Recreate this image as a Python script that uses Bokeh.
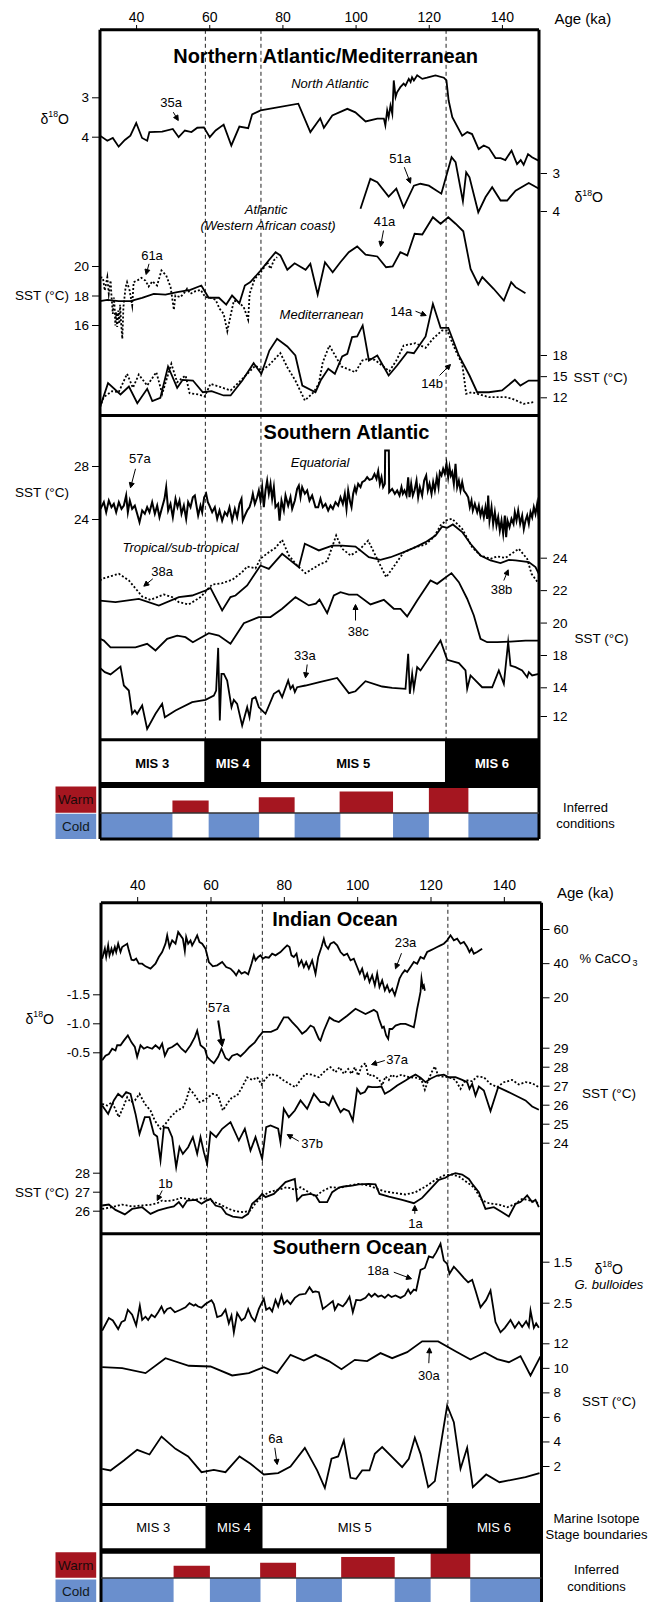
from bokeh.plotting import figure
from bokeh.models import Range1d, Arrow, NormalHead
from bokeh.core.properties import value
from bokeh.embed import file_html
from bokeh.resources import INLINE

W, H = 656, 1602
FONT = "Liberation Sans"
RED = "#A51620"
BLUE = "#6A8FCD"

# ============================ DATA ============================
age_ticks = [40, 60, 80, 100, 120, 140]
mis_names = ["MIS 3", "MIS 4", "MIS 5", "MIS 6"]
mis_start = [30, 58.5, 74.1, 124.3]
mis_end = [58.5, 74.1, 124.3, 150]
mis_dark = [False, True, False, True]
mis_bounds = [58.8, 74.0, 124.6]

warm_start = [49.8, 73.4, 95.5, 119.9]
warm_end = [59.7, 83.2, 110.1, 130.7]
warm_level = [0.47, 0.59, 0.81, 1.0]
cold_start = [30, 59.7, 83.2, 110.1, 130.7]
cold_end = [49.8, 73.5, 95.7, 119.9, 150]

# --- Northern Atlantic / Mediterranean ---
na35a = [(30, 3.96), (32, 4.09), (33.5, 4.02), (35.1, 4.24), (36.8, 4.07), (38.3, 3.96), (39.9, 3.64), (41.5, 4.02),
         (42.9, 4.09), (43.5, 3.87), (47, 3.86), (49.9, 3.79), (51.5, 4.0), (53.2, 3.83), (55, 3.87), (56.6, 3.76),
         (58.4, 3.75), (60, 4.0), (61.6, 3.83), (63.8, 3.68), (65.9, 4.21), (68.1, 3.73), (70.5, 3.77), (71.6, 3.42),
         (73.9, 3.32), (84.2, 3.15), (87.5, 3.87), (90.2, 3.52), (91.2, 3.76), (93.5, 3.45), (97.6, 3.28), (99.8, 3.37),
         (102.6, 3.6), (105.8, 3.53), (107.6, 3.53), (108, 3.7), (108.5, 3.32), (108.9, 3.49), (109.4, 3.2), (109.9, 3.41),
         (110.3, 2.56), (110.8, 2.98), (111.2, 2.86), (112.1, 2.73), (113, 2.64), (113.5, 2.69), (114.4, 2.52), (114.9, 2.6),
         (115.3, 2.48), (115.8, 2.56), (116.7, 2.43), (118.1, 2.52), (119.4, 2.49), (121.7, 2.43), (124, 2.49), (124.7, 2.56),
         (125.3, 3.07), (126.3, 3.49), (129, 3.96), (130.4, 3.87), (131.7, 3.92), (133.5, 4.3), (134.9, 4.21), (136.3, 4.27),
         (138.1, 4.53), (139.5, 4.53), (140.8, 4.58), (142.5, 4.34), (144, 4.68), (145, 4.58), (145.8, 4.7), (147, 4.43),
         (148.1, 4.51), (150, 4.6)]
na51a = [(101.2, 3.93), (103.9, 3.14), (105.8, 3.23), (108.9, 3.61), (111, 3.4), (113, 3.89), (115.8, 3.32), (117.6, 3.27),
         (119.9, 3.32), (123.3, 3.53), (126.1, 2.57), (127.2, 2.7), (129.2, 3.73), (130.1, 2.97), (131, 3.1), (133.4, 4.02),
         (135.4, 3.62), (137.2, 3.36), (139.5, 3.71), (141.3, 3.71), (143.6, 3.45), (147.2, 3.25), (150, 3.4)]
wa41a = [(30, 17.65), (32, 17.74), (35.1, 17.65), (38.3, 17.65), (41.5, 17.88), (44.7, 18.15), (47.9, 18.1), (51.1, 18.26),
         (54.7, 18.42), (57.7, 18.71), (59.7, 17.88), (62.5, 17.88), (64.5, 17.42), (66.1, 18.03), (68.1, 17.51), (69.6, 18.71),
         (71.1, 18.94), (73.9, 19.73), (76.1, 20.41), (78, 20.97), (79.3, 20.75), (81.2, 19.78), (83.2, 20.22), (86.2, 19.78),
         (87.5, 20.18), (89.5, 18.1), (91.5, 20.29), (93.6, 19.61), (95.7, 20.29), (98, 20.97), (100.3, 21.36), (102.6, 20.81),
         (105.8, 20.68), (108.2, 19.95), (110, 20.0), (112.1, 20.97), (114, 20.75), (116, 22.22), (118.1, 22.17), (121, 23.34),
         (123.1, 22.9), (125.2, 23.34), (127.2, 22.9), (129.3, 22.39), (131.3, 19.84), (133.4, 18.78), (134.5, 19.28),
         (137.6, 18.49), (140.4, 17.69), (142.4, 18.94), (143.6, 18.6), (146.3, 18.19)]
wa61a = [(30.1, 19.27), (30.8, 19.23), (31.3, 18.37), (32, 19.27), (32.4, 18.15), (32.9, 19.05), (33.1, 18.15), (33.5, 16.79),
         (33.8, 17.9), (34, 17.24), (34.2, 16.0), (34.4, 16.9), (34.7, 15.9), (35, 17.02), (35.3, 16.12), (35.5, 17.4),
         (35.7, 16.4), (36.1, 15.1), (36.3, 16.5), (36.4, 17.24), (37, 18.6), (37.4, 18.94), (38.1, 18.37), (38.8, 17.36),
         (39.2, 18.94), (40.2, 19.05), (41.3, 19.23), (42.4, 19.05), (43.3, 18.64), (44.3, 19.0), (45.6, 18.71), (46.8, 19.73),
         (48.1, 19.39), (49.3, 18.6), (50.2, 17.06), (50.6, 18.03), (52, 17.92), (53.2, 18.26), (53.8, 18.49), (54.7, 18.15),
         (56.1, 18.33), (57.5, 18.42), (58.8, 17.92), (60.2, 17.88), (61.6, 17.74), (62.7, 17.13), (63.8, 16.79), (64.8, 15.61),
         (65.7, 16.68), (66.6, 17.69), (67.9, 17.58), (69.3, 17.24), (70.5, 16.39), (70.9, 18.15), (72.3, 19.17), (73.6, 19.5),
         (74.8, 19.91), (75.7, 20.29), (76.6, 19.84), (77.5, 20.41), (78.4, 20.63)]
med14a = [(30, 10.67), (32.2, 14.07), (35.6, 12.47), (37.9, 13.6), (40.2, 11.23), (42.9, 13.28), (44.3, 11.52), (46.5, 12.0),
          (48.6, 16.44), (51.1, 13.42), (52.6, 14.55), (55.4, 14.45), (58.1, 12.79), (60.5, 12.94), (63.8, 12.33), (65.7, 12.33),
          (68.9, 14.45), (72, 16.91), (74.1, 15.4), (76.3, 18.7), (78.4, 20.37), (81.2, 19.28), (83.4, 18.0), (85.3, 13.74),
          (88.9, 12.79), (90.3, 14.45), (92.4, 16.11), (94.2, 15.4), (96.2, 17.86), (97.6, 18.24), (98.9, 20.6), (100.3, 20.7),
          (101.8, 22.26), (103.5, 17.29), (105.8, 18.0), (108.9, 15.16), (111.2, 16.58), (114, 18.47), (115.8, 18.33),
          (119, 20.7), (121, 25.33), (123.1, 21.93), (125.2, 21.93), (128.1, 18.0), (131, 15.16), (133.1, 12.79),
          (136.3, 12.79), (139.9, 13.04), (143.4, 14.55), (144.9, 13.74), (147.2, 14.45), (150, 14.45)]
med14b = [(30, 10.67), (31, 12.09), (33.3, 12.94), (35.1, 12.79), (37.4, 15.4), (39, 13.42), (40.6, 15.3), (42.9, 13.74),
          (45.4, 15.63), (47, 12.57), (49.5, 16.82), (51.1, 14.21), (53.4, 15.16), (54.5, 12.65), (57, 12.47), (58.6, 12.18),
          (60.2, 13.98), (62.5, 13.6), (65.7, 13.04), (68.9, 14.69), (72.5, 16.58), (74.1, 15.87), (76.1, 16.58), (79.3, 18.33),
          (81.2, 16.34), (83.4, 14.45), (86, 11.62), (88.4, 12.79), (89.8, 13.98), (90.9, 17.05), (92.7, 19.42), (96, 16.44),
          (99.8, 15.63), (101.7, 17.29), (103.5, 17.53), (105.1, 17.39), (109.1, 15.77), (111, 17.29), (113, 19.42),
          (116.2, 19.74), (119, 19.09), (121, 20.37), (123.5, 21.55), (124.9, 21.55), (127.2, 18.71), (129, 16.82),
          (130.1, 12.57), (131.7, 12.79), (136.3, 12.09), (140.8, 12.09), (142.7, 11.86), (145.8, 11.15), (148.6, 11.39)]

# --- Southern Atlantic ---
sa57a = [(30.14, 24.8), (31.05, 25.31), (31.69, 24.55), (32.41, 25.43), (33.14, 24.93), (33.78, 25.18), (34.42, 24.55),
         (35.15, 25.31), (35.88, 24.8), (36.52, 25.05), (37.15, 25.81), (37.61, 24.55), (38.15, 25.43), (38.79, 24.8),
         (39.52, 25.05), (40.16, 24.43), (40.8, 23.8), (41.53, 24.68), (42.25, 24.43), (42.89, 24.93), (43.53, 24.55),
         (44.26, 25.31), (44.99, 24.43), (45.63, 25.05), (46.26, 24.17), (46.99, 24.93), (47.63, 25.56), (48.09, 26.44),
         (48.63, 24.68), (49.27, 25.18), (49.91, 24.17), (50.64, 25.56), (51.18, 24.93), (51.73, 25.43), (52.28, 24.43),
         (52.92, 25.05), (53.55, 24.05), (54.1, 25.31), (54.74, 24.93), (55.38, 25.68), (55.92, 25.81), (56.29, 25.18),
         (56.83, 24.3), (57.47, 25.05), (57.93, 24.55), (58.47, 25.68), (59.02, 25.94), (59.48, 25.31), (59.93, 25.05),
         (60.66, 24.55), (61.39, 24.93), (62.03, 24.05), (62.67, 24.68), (63.39, 23.92), (64.12, 24.55), (64.76, 24.3),
         (65.4, 24.93), (66.13, 23.92), (66.86, 24.8), (67.49, 24.17), (68.13, 25.18), (68.68, 25.56), (69.04, 23.92),
         (69.59, 24.3), (70.23, 24.68), (70.87, 24.93), (71.41, 25.43), (71.78, 25.94), (72.32, 25.18), (72.96, 25.68),
         (73.42, 26.19), (73.87, 25.43), (74.33, 26.44), (74.78, 24.93), (75.24, 26.19), (75.69, 26.94), (76.15, 25.94),
         (76.61, 26.69), (77.06, 25.56), (77.52, 26.44), (77.97, 24.93), (78.7, 25.18), (79.07, 23.92), (79.61, 25.43),
         (80.25, 24.68), (80.71, 25.81), (81.44, 25.05), (82.07, 25.68), (82.53, 24.8), (83.26, 25.43), (83.89, 26.31),
         (84.35, 26.56), (84.81, 25.68), (85.26, 26.44), (85.99, 25.94), (86.63, 26.19), (87.27, 25.43), (87.99, 25.81),
         (88.91, 24.93), (89.64, 24.93), (90.27, 25.56), (90.91, 24.93), (91.64, 25.18), (92.37, 24.68), (93.01, 25.05),
         (93.65, 24.8), (94.37, 25.31), (95.1, 25.05), (95.74, 25.68), (96.38, 25.18), (96.92, 25.94), (97.38, 24.8),
         (97.84, 26.19), (98.38, 25.31), (98.75, 24.93), (99.2, 25.94), (99.66, 26.44), (100.02, 26.06), (100.57, 26.69),
         (101.21, 26.44), (101.66, 26.82), (102.39, 26.94), (103.03, 27.19), (103.67, 26.99), (104.4, 27.07),
         (105.03, 27.44), (105.58, 27.07), (106.04, 27.65), (106.49, 26.69), (106.95, 27.19), (107.4, 26.44),
         (107.86, 26.69), (107.95, 29.21), (108.95, 29.21), (109.05, 26.06), (109.86, 26.31), (110.59, 25.94),
         (111.23, 26.19), (111.87, 25.81), (112.41, 26.44), (112.78, 25.94), (113.23, 26.19), (113.78, 25.81),
         (114.24, 27.19), (114.6, 25.68), (115.06, 26.69), (115.51, 25.81), (115.97, 26.19), (116.52, 26.94),
         (116.97, 25.68), (117.43, 26.44), (118.06, 25.81), (118.61, 26.94), (119.16, 27.32), (119.61, 26.19),
         (120.07, 26.69), (120.62, 25.94), (121.07, 26.82), (121.53, 26.19), (122.07, 27.19), (122.53, 26.44),
         (122.89, 27.57), (123.35, 27.32), (123.8, 27.82), (124.26, 27.44), (124.71, 28.2), (125.17, 27.19),
         (125.54, 27.95), (125.9, 27.32), (126.26, 27.57), (126.72, 26.69), (127.18, 28.2), (127.63, 26.44),
         (128.09, 26.94), (128.54, 26.19), (129.0, 26.82), (129.45, 26.19), (130.09, 25.94), (130.64, 25.68),
         (131.09, 24.93), (131.55, 25.43), (131.91, 24.68), (132.46, 25.18), (133.1, 24.55), (133.55, 25.05),
         (134.01, 24.3), (134.46, 24.8), (134.92, 24.17), (135.38, 24.93), (135.83, 24.05), (136.11, 25.81),
         (136.47, 23.92), (137.02, 24.93), (137.47, 23.67), (137.93, 24.55), (138.38, 23.55), (138.84, 24.17),
         (139.29, 23.17), (139.75, 23.92), (140.21, 22.92), (140.66, 24.3), (141.02, 22.66), (141.39, 23.92),
         (141.94, 23.42), (142.48, 24.05), (143.03, 23.67), (143.39, 24.55), (143.85, 23.92), (144.31, 24.68),
         (144.85, 23.67), (145.4, 24.3), (145.85, 23.29), (146.31, 23.92), (146.77, 24.3), (147.22, 23.67),
         (147.68, 24.55), (148.13, 24.17), (148.59, 24.93), (149.04, 24.43), (149.5, 25.18), (149.96, 24.05)]
sa38a = [(30.0, 22.62), (30.59, 22.73), (35.15, 23.04), (37.88, 22.63), (41.53, 21.64), (43.8, 21.43), (47.45, 21.76),
         (49.73, 21.6), (51.55, 21.29), (54.28, 21.15), (57.47, 21.6), (60.66, 22.38), (63.39, 22.46), (66.13, 22.67),
         (68.86, 23.14), (70.23, 23.49), (72.5, 23.37), (73.87, 23.97), (76.15, 24.37), (77.97, 24.64), (79.79, 25.13),
         (81.62, 24.17), (83.89, 23.55), (86.17, 23.08), (90.0, 23.61), (92.1, 23.82), (94.56, 25.4), (96.2, 24.58),
         (98.47, 24.17), (100.75, 24.48), (103.3, 25.09), (105.76, 23.96), (108.22, 22.83), (110.32, 23.49),
         (113.05, 24.37), (116.24, 24.68), (118.98, 24.85), (121.25, 25.3), (123.08, 26.02), (124.62, 26.33),
         (126.26, 26.43), (129.0, 25.81), (131.73, 24.68), (134.01, 24.17), (136.74, 23.96), (138.57, 24.11),
         (140.84, 24.02), (144.49, 24.58), (146.77, 23.96), (147.95, 23.04), (149.96, 22.42)]
sa38b = [(30.0, 21.39), (34.24, 21.29), (40.62, 21.49), (46.08, 21.08), (51.55, 21.6), (55.19, 21.7), (58.84, 22.01),
         (60.2, 22.17), (63.39, 20.78), (65.67, 21.6), (67.04, 21.7), (70.23, 22.32), (73.87, 23.55), (76.15, 23.34),
         (79.79, 24.27), (84.35, 23.45), (85.99, 24.89), (89.82, 24.48), (93.46, 24.78), (96.2, 24.78), (99.84, 24.72),
         (103.48, 24.06), (106.67, 23.9), (109.41, 24.06), (113.05, 24.37), (116.24, 24.68), (118.98, 24.99),
         (121.71, 25.4), (123.53, 25.95), (124.9, 25.87), (126.45, 26.08), (129.0, 25.61), (131.28, 24.89),
         (134.01, 24.17), (136.74, 23.86), (139.48, 23.7), (141.75, 23.9), (143.58, 23.86), (147.22, 23.76),
         (149.04, 23.45), (149.96, 23.04)]
sa38c = [(30.0, 19.03), (31.05, 18.92), (32.87, 18.5), (36.06, 18.5), (39.7, 18.5), (42.89, 18.72), (45.17, 18.31),
         (48.36, 19.03), (51.1, 19.23), (53.37, 19.13), (55.38, 18.82), (59.75, 19.38), (62.48, 19.23), (65.67, 18.72),
         (69.32, 19.99), (73.42, 20.37), (76.61, 20.37), (79.79, 20.88), (83.44, 21.6), (87.08, 21.09), (89.0, 21.2),
         (90.0, 21.45), (92.1, 20.61), (93.92, 21.7), (95.74, 21.91), (98.02, 21.76), (100.3, 21.76), (103.94, 21.15),
         (107.59, 21.43), (110.32, 20.88), (112.14, 20.88), (113.96, 20.41), (116.7, 21.39), (120.34, 22.63),
         (122.16, 22.42), (123.99, 22.73), (126.08, 23.08), (128.09, 22.52), (130.36, 21.5), (132.19, 20.47),
         (134.01, 19.03), (135.83, 18.82), (138.57, 18.82), (142.21, 18.86), (146.31, 18.92), (149.96, 18.92)]
sa33a = [(30.0, 15.39), (31.32, 15.09), (32.87, 14.93), (35.6, 15.48), (36.52, 14.16), (37.88, 13.81), (38.79, 12.19),
         (39.52, 12.42), (40.16, 12.19), (41.53, 12.77), (42.89, 11.14), (45.17, 12.19), (46.99, 12.88), (47.72, 11.95),
         (50.64, 12.42), (55.19, 13.0), (58.84, 13.16), (61.12, 13.46), (61.75, 13.81), (62.3, 16.78), (62.75, 11.72),
         (63.2, 14.97), (63.85, 14.97), (64.76, 14.51), (65.95, 12.65), (66.58, 13.16), (67.49, 12.88), (68.86, 11.37),
         (70.23, 12.65), (70.87, 11.95), (71.59, 13.23), (72.5, 13.35), (73.42, 12.65), (75.24, 12.19), (77.52, 13.58),
         (78.88, 13.81), (79.79, 13.35), (81.44, 14.51), (82.07, 13.93), (82.71, 14.16), (83.26, 13.7), (83.89, 14.04),
         (86.17, 14.16), (90.0, 14.39), (94.83, 14.69), (98.02, 13.63), (99.84, 13.76), (102.57, 14.46), (107.13, 14.09),
         (109.86, 14.0), (113.51, 13.93), (114.24, 16.37), (114.69, 13.58), (115.33, 14.97), (115.79, 13.93),
         (116.7, 15.44), (117.61, 15.21), (123.08, 17.3), (124.9, 15.95), (128.09, 15.72), (129.91, 15.21),
         (130.37, 13.93), (131.28, 14.86), (134.46, 14.04), (137.2, 14.04), (139.02, 15.21), (140.39, 14.28),
         (141.57, 17.18), (142.21, 15.55), (143.58, 15.44), (145.4, 15.21), (146.77, 14.74), (147.22, 15.09),
         (148.13, 14.86), (149.96, 14.97)]

# --- Indian Ocean ---
io23a = [(30.32, 42.91), (31.05, 48.76), (31.41, 43.89), (31.95, 50.71), (32.32, 44.86), (32.86, 48.76), (33.23, 45.84),
         (33.77, 49.74), (34.14, 46.81), (34.68, 51.69), (35.32, 46.81), (35.77, 49.74), (36.5, 50.71), (37.14, 51.69),
         (37.59, 47.79), (38.32, 42.33), (38.95, 41.93), (39.59, 42.91), (40.32, 39.98), (41.23, 39.98), (42.14, 38.42),
         (43.5, 37.06), (44.86, 39.98), (45.77, 43.89), (46.68, 46.81), (47.59, 51.69), (48.05, 56.56), (48.68, 49.74),
         (49.41, 53.64), (50.32, 51.69), (51.05, 58.51), (51.68, 56.56), (52.32, 54.61), (52.86, 47.4), (53.23, 55.59),
         (53.77, 51.69), (54.41, 53.64), (54.86, 50.71), (55.59, 53.64), (56.23, 56.56), (56.86, 52.66), (57.59, 51.69),
         (58.5, 48.76), (59.41, 40.96), (60.5, 38.42), (61.68, 39.01), (63.05, 40.96), (64.14, 38.03), (65.32, 37.06),
         (66.23, 35.11), (66.86, 33.16), (67.59, 36.08), (68.32, 34.13), (69.23, 35.11), (70.14, 33.74), (71.05, 39.98),
         (71.68, 44.86), (72.14, 41.93), (72.86, 43.89), (73.5, 44.86), (74.14, 42.91), (74.86, 43.89), (75.77, 43.5),
         (76.68, 45.84), (77.59, 44.86), (78.95, 46.81), (79.86, 48.76), (80.77, 50.71), (81.41, 49.74), (81.95, 44.86),
         (82.59, 43.89), (83.32, 45.84), (83.95, 39.01), (84.68, 41.93), (85.32, 38.03), (85.95, 40.96), (86.68, 37.06),
         (87.59, 41.93), (88.5, 34.13), (89.23, 43.89), (90.14, 49.74), (90.77, 54.61), (91.23, 50.71), (91.95, 48.76),
         (92.59, 51.69), (93.5, 52.66), (94.41, 50.71), (95.32, 46.81), (96.23, 44.86), (97.14, 45.84), (98.05, 41.93),
         (98.95, 42.91), (99.86, 38.03), (100.59, 34.13), (101.23, 37.06), (101.95, 31.21), (102.59, 34.13),
         (103.23, 29.26), (103.95, 33.16), (104.68, 27.31), (105.32, 34.13), (105.95, 26.33), (106.68, 30.23),
         (107.41, 24.38), (108.05, 27.31), (108.68, 23.41), (109.41, 25.36), (110.14, 21.46), (110.77, 26.33),
         (111.41, 31.21), (112.14, 34.13), (112.86, 36.08), (113.5, 35.11), (114.41, 38.03), (115.32, 40.96),
         (116.23, 39.98), (117.14, 43.89), (118.05, 42.91), (118.95, 46.81), (119.86, 47.79), (120.77, 48.76),
         (121.68, 49.74), (122.59, 50.71), (123.5, 51.69), (124.41, 53.64), (125.32, 56.56), (126.23, 53.64),
         (127.14, 54.61), (128.05, 51.69), (128.95, 52.66), (129.86, 49.74), (130.5, 46.81), (131.05, 48.76),
         (131.68, 45.84), (132.59, 46.81), (133.95, 48.76)]
io57a = [(30.32, -0.37), (31.23, -0.45), (32.14, -0.48), (33.05, -0.57), (33.95, -0.54), (34.41, -0.63), (35.32, -0.63),
         (36.23, -0.71), (37.32, -0.8), (38.32, -0.68), (39.23, -0.6), (39.86, -0.43), (40.77, -0.63), (41.68, -0.57),
         (42.59, -0.6), (43.95, -0.57), (44.86, -0.63), (45.95, -0.57), (46.68, -0.66), (47.41, -0.45), (48.32, -0.57),
         (49.41, -0.6), (50.77, -0.66), (51.95, -0.57), (53.05, -0.51), (54.41, -0.63), (55.59, -0.77), (56.23, -0.88),
         (57.14, -0.63), (58.32, -0.57), (58.95, -0.43), (59.86, -0.37), (60.77, -0.32), (61.95, -0.43), (62.86, -0.57),
         (63.95, -0.41), (64.86, -0.37), (65.77, -0.45), (67.14, -0.48), (68.05, -0.44), (69.23, -0.51), (70.5, -0.6),
         (71.95, -0.68), (73.05, -0.78), (74.14, -0.86), (76.36, -0.86), (78.05, -0.91), (79.86, -1.11), (81.05, -1.11),
         (82.14, -1.03), (83.5, -0.94), (84.86, -0.83), (85.95, -0.88), (87.14, -0.97), (88.05, -0.94), (89.41, -0.74),
         (89.86, -0.71), (90.77, -0.88), (92.32, -1.11), (93.5, -1.06), (94.86, -1.03), (97.14, -1.14), (99.41, -1.26),
         (102.14, -1.17), (104.41, -1.24), (105.32, -1.2), (105.77, -1.09), (106.68, -0.93), (107.14, -0.95),
         (107.77, -0.8), (108.32, -0.74), (108.68, -0.91), (109.41, -0.91), (110.32, -0.97), (111.68, -1.0),
         (113.05, -1.0), (115.32, -0.94), (115.77, -1.09), (116.23, -1.26), (116.68, -1.4), (117.14, -1.55),
         (117.41, -1.78), (117.77, -1.63), (118.05, -1.66), (118.32, -1.57)]
io37a = [(30.32, 26.07), (31.68, 25.98), (33.05, 26.16), (34.86, 25.37), (36.23, 25.98), (37.14, 26.42), (38.05, 26.16),
         (39.23, 26.25), (40.5, 26.6), (41.95, 26.07), (43.5, 25.72), (44.68, 25.19), (46.23, 24.76), (47.59, 25.02),
         (48.95, 25.37), (50.77, 25.72), (52.32, 25.86), (53.23, 26.25), (54.14, 26.86), (55.32, 26.6), (56.86, 26.16),
         (58.05, 26.25), (59.23, 26.42), (60.5, 26.6), (61.95, 26.51), (63.23, 25.72), (64.68, 26.16), (65.77, 26.42),
         (67.14, 26.51), (68.5, 26.95), (69.86, 27.47), (71.23, 27.33), (72.59, 27.47), (73.77, 27.09), (74.86, 27.39),
         (76.23, 27.65), (78.05, 27.56), (79.86, 27.3), (81.68, 27.09), (83.05, 26.95), (84.41, 27.33), (85.77, 27.65),
         (87.41, 27.61), (89.41, 27.47), (91.23, 27.83), (92.59, 28.0), (93.95, 27.74), (95.05, 28.0), (96.23, 27.65),
         (97.41, 27.91), (98.32, 27.65), (99.23, 28.0), (100.14, 27.56), (101.05, 28.04), (102.14, 28.21), (102.86, 27.56),
         (103.95, 27.61), (104.86, 27.47), (105.77, 27.39), (106.68, 27.04), (107.59, 27.51), (108.5, 27.33),
         (109.23, 27.61), (110.32, 27.47), (111.23, 27.56), (112.14, 27.61), (113.05, 27.51), (114.41, 27.47),
         (116.23, 27.44), (117.41, 27.33), (118.32, 26.81), (119.41, 27.39), (120.32, 27.79), (121.05, 28.04),
         (121.95, 27.56), (123.05, 27.51), (124.86, 27.47), (126.68, 27.33), (128.05, 26.86), (129.41, 27.33),
         (131.23, 27.26), (132.59, 27.51), (134.41, 27.47), (136.23, 27.12), (138.05, 26.95), (139.86, 27.21),
         (142.14, 27.33), (143.95, 27.09), (145.77, 27.21), (147.59, 27.16), (149.41, 26.95)]
io37b = [(30.32, 25.98), (31.95, 25.54), (33.5, 26.25), (34.68, 26.6), (35.77, 26.42), (36.86, 26.69), (38.05, 26.6),
         (39.41, 25.54), (40.5, 24.49), (41.95, 25.37), (43.23, 25.37), (44.41, 24.49), (45.32, 24.35), (46.23, 23.09),
         (47.14, 24.84), (48.32, 24.81), (49.41, 24.32), (50.5, 22.74), (51.41, 23.79), (52.32, 23.44), (53.77, 23.79),
         (55.05, 24.32), (56.23, 23.44), (57.14, 24.32), (58.05, 23.53), (58.95, 22.91), (59.86, 24.58), (61.41, 24.32),
         (63.05, 24.76), (65.32, 25.11), (67.59, 24.14), (69.23, 24.76), (70.77, 23.61), (72.14, 24.32), (73.95, 23.18),
         (75.05, 24.84), (76.23, 24.93), (78.32, 24.76), (78.95, 24.05), (79.86, 25.81), (81.23, 25.37), (82.86, 25.72),
         (84.41, 26.25), (86.23, 25.81), (88.05, 26.6), (89.86, 26.16), (91.05, 26.16), (92.14, 25.98), (93.23, 26.46),
         (94.41, 25.98), (95.32, 25.63), (96.23, 25.81), (97.59, 25.69), (98.68, 25.19), (99.86, 26.86), (100.77, 26.6),
         (101.95, 26.69), (102.86, 26.98), (103.95, 26.95), (105.32, 26.95), (106.5, 26.98), (107.41, 26.6),
         (108.95, 26.77), (110.77, 27.04), (113.05, 27.3), (114.41, 27.47), (115.77, 27.61), (117.14, 27.44),
         (118.5, 27.21), (119.86, 27.39), (121.68, 27.56), (123.5, 27.61), (124.86, 27.47), (126.68, 27.47),
         (128.5, 27.33), (129.86, 27.21), (130.5, 26.86), (131.23, 27.12), (132.14, 26.51), (133.05, 26.98),
         (134.41, 26.77), (136.23, 25.69), (138.32, 26.95), (140.32, 26.77), (143.05, 26.51), (145.77, 26.25),
         (147.59, 25.93), (149.41, 25.76)]
io1a = [(30.32, 26.3), (32.14, 26.35), (33.95, 26.07), (36.5, 25.83), (38.5, 26.12), (41.23, 26.21), (43.5, 25.86),
        (45.59, 26.04), (48.05, 26.18), (49.86, 26.25), (51.23, 26.48), (52.32, 26.21), (53.5, 26.56), (55.77, 26.6),
        (57.41, 26.39), (58.5, 26.53), (59.86, 26.65), (61.23, 26.3), (62.86, 26.21), (64.14, 25.86), (65.95, 25.72),
        (68.5, 25.65), (70.14, 25.86), (71.23, 26.39), (73.05, 26.7), (73.95, 26.91), (74.86, 26.74), (77.14, 26.91),
        (78.95, 27.26), (80.32, 27.53), (82.86, 27.7), (83.5, 26.56), (84.86, 26.83), (87.14, 26.91), (88.5, 26.83),
        (89.6, 26.48), (91.68, 26.48), (93.05, 27.0), (95.05, 27.26), (96.23, 27.3), (98.5, 27.35), (100.32, 27.41),
        (103.05, 27.44), (104.86, 27.41), (105.95, 26.91), (108.5, 26.77), (112.14, 26.6), (115.32, 26.42),
        (117.59, 26.7), (119.86, 27.18), (122.14, 27.65), (123.95, 27.76), (124.86, 27.88), (126.68, 28.0),
        (128.5, 27.93), (130.32, 27.7), (131.23, 27.44), (133.05, 27.0), (134.86, 26.12), (137.14, 26.21),
        (139.41, 25.95), (141.23, 25.72), (143.05, 26.39), (144.41, 26.48), (145.32, 26.65), (146.23, 26.83),
        (147.59, 26.48), (148.5, 26.6), (149.41, 26.21)]
io1b = [(30.32, 26.12), (33.05, 26.21), (35.77, 26.35), (38.5, 26.25), (41.23, 26.3), (43.95, 26.35), (45.32, 26.42),
        (46.68, 26.56), (48.05, 26.53), (50.32, 26.6), (51.68, 26.7), (53.95, 26.65), (55.77, 26.6), (57.59, 26.7),
        (59.86, 26.56), (62.14, 26.39), (64.86, 26.12), (66.68, 26.0), (68.95, 25.95), (70.77, 26.04), (72.14, 26.42),
        (73.77, 26.74), (75.77, 27.0), (78.05, 27.12), (80.77, 27.26), (83.05, 27.12), (84.41, 27.26), (86.68, 27.0),
        (88.5, 26.77), (90.32, 27.05), (92.59, 27.26), (95.32, 27.23), (97.59, 27.35), (100.32, 27.44), (103.05, 27.35),
        (105.32, 27.18), (107.14, 27.05), (110.32, 26.95), (113.05, 26.88), (115.77, 27.0), (118.5, 27.3),
        (121.23, 27.65), (123.5, 27.88), (125.77, 27.93), (127.59, 27.83), (129.41, 27.58), (131.68, 27.26),
        (133.95, 26.56), (135.77, 26.42), (138.5, 26.35), (140.77, 26.21), (143.05, 26.39), (144.86, 26.65),
        (147.14, 26.56), (149.41, 26.42)]

# --- Southern Ocean ---
so18a = [(30.32, 3.17), (32.14, 2.86), (33.23, 2.92), (34.68, 3.13), (35.59, 2.96), (36.5, 2.92), (37.32, 2.66),
         (38.5, 2.78), (39.59, 3.04), (40.59, 2.56), (41.23, 2.91), (42.14, 2.83), (42.86, 2.91), (43.77, 2.78),
         (44.68, 2.84), (45.59, 2.72), (46.5, 2.58), (47.23, 2.74), (48.05, 2.64), (48.95, 2.61), (50.14, 2.72),
         (51.68, 2.66), (53.05, 2.6), (54.14, 2.5), (55.32, 2.56), (55.77, 2.53), (56.5, 2.58), (57.41, 2.61), (58.5, 2.52),
         (60.14, 2.43), (60.77, 2.52), (61.68, 2.84), (62.86, 2.8), (63.95, 2.66), (64.86, 2.99), (65.59, 2.8),
         (66.23, 3.21), (67.14, 2.74), (68.32, 2.92), (69.23, 2.86), (70.14, 2.64), (71.05, 2.84), (71.95, 2.94),
         (73.05, 2.64), (74.41, 2.39), (75.05, 2.66), (75.95, 2.61), (76.68, 2.7), (77.59, 2.42), (78.32, 2.58),
         (79.23, 2.31), (79.86, 2.52), (80.77, 2.43), (81.68, 2.52), (82.86, 2.37), (84.14, 2.29), (85.77, 2.27),
         (86.86, 2.11), (87.77, 2.23), (88.5, 2.21), (89.41, 2.23), (90.5, 2.64), (91.68, 2.56), (93.23, 2.45),
         (93.77, 2.66), (94.68, 2.52), (95.95, 2.58), (96.86, 2.48), (97.77, 2.34), (98.68, 2.72), (99.59, 2.42),
         (100.77, 2.43), (102.14, 2.37), (103.05, 2.27), (103.77, 2.34), (104.68, 2.27), (105.59, 2.34), (106.5, 2.31),
         (107.41, 2.37), (108.32, 2.29), (109.23, 2.35), (110.32, 2.31), (111.68, 2.37), (112.86, 2.31), (113.77, 2.17),
         (114.41, 2.27), (115.32, 2.17), (115.95, 2.19), (117.14, 1.69), (118.32, 1.64), (119.41, 1.36), (120.5, 1.39),
         (121.41, 1.26), (122.59, 1.05), (123.5, 1.46), (124.41, 1.54), (125.05, 1.78), (126.23, 1.61), (127.59, 1.74),
         (128.95, 1.88), (130.14, 1.99), (131.23, 1.93), (132.14, 2.19), (133.5, 2.6), (135.05, 2.42), (136.23, 2.19),
         (137.59, 2.96), (138.95, 3.21), (140.14, 3.1), (141.68, 2.91), (142.86, 3.1), (143.95, 2.96), (144.86, 3.08),
         (145.95, 2.94), (146.68, 3.07), (147.14, 2.68), (148.05, 3.1), (148.68, 2.99), (149.41, 3.1)]
so30a = [(30.32, 10.1), (35.77, 10.01), (42.14, 9.61), (47.59, 10.83), (53.95, 10.21), (59.86, 10.15), (65.77, 9.42),
         (70.32, 9.61), (74.41, 10.1), (78.05, 9.61), (81.68, 11.1), (85.32, 10.64), (88.5, 11.1), (92.14, 10.59),
         (95.59, 9.93), (99.23, 10.69), (102.59, 10.59), (106.23, 11.24), (109.41, 10.83), (113.5, 11.32), (117.59, 12.2),
         (121.95, 12.2), (126.68, 11.4), (130.77, 10.72), (134.68, 11.29), (138.05, 10.75), (141.23, 10.5),
         (144.41, 10.99), (147.14, 9.42), (149.86, 10.97)]
so6a = [(30.32, 1.81), (32.59, 1.68), (36.23, 2.49), (39.86, 3.36), (43.23, 2.98), (46.5, 4.44), (50.32, 3.44),
        (53.77, 2.82), (57.41, 1.54), (60.77, 1.73), (63.95, 1.54), (67.77, 2.82), (70.77, 2.22), (74.41, 1.35),
        (78.32, 1.46), (81.68, 2.0), (85.59, 3.52), (88.95, 1.68), (91.05, 0.26), (92.86, 2.63), (94.68, 2.82),
        (96.23, 4.12), (98.05, 1.08), (99.59, 1.0), (101.23, 1.68), (103.23, 1.68), (104.68, 3.03), (106.68, 3.58),
        (112.14, 1.95), (113.95, 2.63), (115.59, 4.34), (117.14, 3.03), (119.23, 0.32), (121.05, 0.81), (124.41, 6.97),
        (126.23, 5.61), (128.05, 1.81), (129.86, 3.52), (131.41, 0.32), (135.05, 1.35), (138.68, 0.72), (145.77, 1.13),
        (149.59, 1.46)]

# axis tick values per scale
ticks_na_d18o = [3, 4]
ticks_na51 = [3, 4]
ticks_wa_sst = [20, 18, 16]
ticks_med_sst = [18, 15, 12]
ticks_sa_eq = [28, 24]
ticks_sa_trop = [24, 22, 20, 18]
ticks_sa_33a = [14, 12]
ticks_io_caco3 = [60, 40, 20]
ticks_io_d18o = [-1.5, -1.0, -0.5]
ticks_io_sst37 = [29, 28, 27, 26, 25, 24]
ticks_io_sst1 = [28, 27, 26]
ticks_so_d18o = [1.5, 2.5]
ticks_so_sst = [12, 10, 8, 6, 4, 2]

# ============================ LAYOUT ============================
# scale calibration: (value_a, pixel_a, value_b, pixel_b)
CAL = {
    "na_d18o": (3, 97.3, 4, 136.7),
    "na51": (3, 173, 4, 211),
    "wa_sst": (20, 266, 16, 325),
    "med_sst": (18, 355, 12, 397.3),
    "sa_eq": (28, 466, 24, 519),
    "sa_trop": (24, 557.7, 18, 655),
    "sa_33a": (14, 687.3, 12, 716),
    "io_caco3": (60, 929, 20, 997.3),
    "io_d18o": (-1.5, 994.3, -0.5, 1052.3),
    "io_sst37": (29, 1047.7, 24, 1142.7),
    "io_sst1": (28, 1172.7, 26, 1210.7),
    "so_d18o": (1.5, 1261.7, 2.5, 1302.7),
    "so_sst": (12, 1343.3, 2, 1466),
    "warm_t": (0, 812.5, 1, 786),
    "warm_b": (0, 1577.5, 1, 1551.7),
}


def yrange(v1, p1, v2, p2):
    s = (v2 - v1) / (p2 - p1)
    return Range1d(start=v1 + s * (H - p1), end=v1 - s * p1)


def xrange_(a1, p1, a2, p2):
    s = (a2 - a1) / (p2 - p1)
    return Range1d(start=a1 - s * p1, end=a1 + s * (W - p1))


p = figure(width=W, height=H, x_range=Range1d(0, W), y_range=Range1d(H, 0),
           output_backend="svg", toolbar_location=None, min_border=0,
           x_axis_location=None, y_axis_location=None)
p.outline_line_color = None
p.background_fill_color = "white"
p.border_fill_color = "white"
p.grid.visible = False
p.extra_x_ranges = {"age_t": xrange_(30, 99.5, 150, 538.5), "age_b": xrange_(30, 100.5, 150, 540.5)}
p.extra_y_ranges = {k: yrange(*v) for k, v in CAL.items()}


def txt(x, y, s, size=13, align="center", style="normal", color="black", xr="default", yr="default"):
    p.text(x=[x], y=[y], text=[s], text_font=value(FONT), text_font_size=f"{size}px",
           text_align=align, text_baseline="middle", text_font_style=style, text_color=color,
           x_range_name=xr, y_range_name=yr)


def d18o(x, y, size=14):
    txt(x, y, "δ", size, align="left")
    txt(x + 0.56 * size, y - 0.32 * size, "18", round(size * 0.62, 1), align="left")
    txt(x + 0.56 * size + 1.12 * size * 0.62, y, "O", size, align="left")


def series(pairs, xr, yr, dash=None, width=1.8):
    xs = [a for a, _ in pairs]
    ys = [v for _, v in pairs]
    kw = dict(x_range_name=xr, y_range_name=yr, line_color="black", line_width=width, line_join="miter")
    if dash:
        kw["line_dash"] = dash
    p.line(xs, ys, **kw)


def fmt(v):
    return f"{v:.1f}" if isinstance(v, float) else str(v)


def yticks(rname, vals, side, panel):
    n = len(vals)
    if side == "left":
        x0, x1 = (91.5, 98.5) if panel == "t" else (92.5, 99.5)
        xl, align = (88.5 if panel == "t" else 89.5), "right"
    else:
        x0, x1 = (540, 546.5) if panel == "t" else (542.5, 549)
        xl, align = (552 if panel == "t" else 553), "left"
    p.segment(x0=[x0] * n, x1=[x1] * n, y0=vals, y1=vals, y_range_name=rname,
              line_color="black", line_width=1)
    p.text(x=[xl] * n, y=vals, text=[fmt(v) for v in vals], y_range_name=rname,
           text_font=value(FONT), text_font_size="13.5px", text_align=align, text_baseline="middle")


PANELS = [
    dict(name="t", age="age_t", x0=99.5, x1=538.5, top=29.3, sep=415, mis_top=739.3, mis_bot=783,
         warm_top=786, warm_bot=812.5, bot=838.5, tick_y0=24.5, lab_y=16.7, agelab=(554, 18),
         mis_y=762.7, mis_style="bold", warm_rng="warm_t", wc_lab=(55, 95.7),
         cold_box=(813.3, 838.5), cold_y=826, warm_y=799, inferred=(585, 806.7, 822.7)),
    dict(name="b", age="age_b", x0=100.5, x1=541, top=902.3, sep=1233.3, mis_top=1504, mis_bot=1549.3,
         warm_top=1551.7, warm_bot=1577.5, bot=1604, tick_y0=896.5, lab_y=884.7, agelab=(556.5, 891.7),
         mis_y=1527.3, mis_style="normal", warm_rng="warm_b", wc_lab=(55, 95.7),
         cold_box=(1579, 1602), cold_y=1590.5, warm_y=1564.5, inferred=(596, 1569.3, 1585.7)),
]

for P in PANELS:
    a = P["age"]
    # MIS row
    p.quad(left=mis_start, right=mis_end, top=[P["mis_top"]] * 4, bottom=[P["mis_bot"]] * 4,
           x_range_name=a, fill_color=["black" if d else "white" for d in mis_dark], line_color=None)
    p.text(x=[(s + e) / 2 for s, e in zip(mis_start, mis_end)], y=[P["mis_y"]] * 4, text=mis_names,
           x_range_name=a, text_font=value(FONT), text_font_size="13px", text_font_style=P["mis_style"],
           text_align="center", text_baseline="middle",
           text_color=["white" if d else "black" for d in mis_dark])
    # warm / cold rows
    p.quad(left=warm_start, right=warm_end, bottom=[0] * 4, top=warm_level, x_range_name=a,
           y_range_name=P["warm_rng"], fill_color=RED, line_color=None)
    p.quad(left=cold_start, right=cold_end, top=[P["warm_bot"]] * 5, bottom=[P["bot"]] * 5,
           x_range_name=a, fill_color=BLUE, line_color=None)
    # legend boxes
    lx0, lx1 = P["wc_lab"]
    p.quad(left=[lx0], right=[lx1], top=[P["warm_top"]], bottom=[P["warm_bot"] - 0.3], fill_color=RED, line_color=None)
    p.quad(left=[lx0], right=[lx1], top=[P["cold_box"][0]], bottom=[P["cold_box"][1]], fill_color=BLUE, line_color=None)
    txt((lx0 + lx1) / 2, P["warm_y"], "Warm", 13.5, color="#1a0a0a")
    txt((lx0 + lx1) / 2, P["cold_y"], "Cold", 13.5, color="#101820")
    ix, iy1, iy2 = P["inferred"]
    txt(ix, iy1, "Inferred", 13)
    txt(ix, iy2, "conditions", 13)
    # dashed MIS boundaries
    p.segment(x0=mis_bounds, x1=mis_bounds, y0=[P["top"]] * 3, y1=[P["mis_top"]] * 3, x_range_name=a,
              line_color="#222222", line_width=1, line_dash="4 3")
    # age axis
    n = len(age_ticks)
    p.segment(x0=age_ticks, x1=age_ticks, y0=[P["tick_y0"]] * n, y1=[P["top"]] * n, x_range_name=a,
              line_color="black", line_width=1)
    p.text(x=age_ticks, y=[P["lab_y"]] * n, text=[str(t) for t in age_ticks], x_range_name=a,
           text_font=value(FONT), text_font_size="14px", text_align="center", text_baseline="middle")
    txt(P["agelab"][0], P["agelab"][1], "Age (ka)", 15, align="left")

# ---------------- data lines ----------------
series(na35a, "age_t", "na_d18o")
series(na51a, "age_t", "na51")
series(wa41a, "age_t", "wa_sst")
series(wa61a, "age_t", "wa_sst", dash="2 2")
series(med14a, "age_t", "med_sst")
series(med14b, "age_t", "med_sst", dash="2 2")
series(sa57a, "age_t", "sa_eq", width=2)
series(sa38a, "age_t", "sa_trop", dash="2 2")
series(sa38b, "age_t", "sa_trop")
series(sa38c, "age_t", "sa_trop")
series(sa33a, "age_t", "sa_33a")
series(io23a, "age_b", "io_caco3")
series(io57a, "age_b", "io_d18o")
series(io37a, "age_b", "io_sst37", dash="2 2")
series(io37b, "age_b", "io_sst37")
series(io1b, "age_b", "io_sst1", dash="2 2")
series(io1a, "age_b", "io_sst1")
series(so18a, "age_b", "so_d18o")
series(so30a, "age_b", "so_sst")
series(so6a, "age_b", "so_sst")

# ---------------- value axes ----------------
yticks("na_d18o", ticks_na_d18o, "left", "t")
yticks("wa_sst", ticks_wa_sst, "left", "t")
yticks("na51", ticks_na51, "right", "t")
yticks("med_sst", ticks_med_sst, "right", "t")
yticks("sa_eq", ticks_sa_eq, "left", "t")
yticks("sa_trop", ticks_sa_trop, "right", "t")
yticks("sa_33a", ticks_sa_33a, "right", "t")
yticks("io_caco3", ticks_io_caco3, "right", "b")
yticks("io_d18o", ticks_io_d18o, "left", "b")
yticks("io_sst37", ticks_io_sst37, "right", "b")
yticks("io_sst1", ticks_io_sst1, "left", "b")
yticks("so_d18o", ticks_so_d18o, "right", "b")
yticks("so_sst", ticks_so_sst, "right", "b")

# axis titles
d18o(40, 118.3)
txt(14.6, 295, "SST (°C)", 13.5, align="left")
d18o(574, 196.7)
txt(573, 376.7, "SST (°C)", 13.5, align="left")
txt(14.6, 492.3, "SST (°C)", 13.5, align="left")
txt(574, 638.3, "SST (°C)", 13.5, align="left")
txt(579, 957.7, "% CaCO", 13, align="left")
txt(632, 962, "3", 9, align="left")
d18o(25, 1018.3)
txt(581.6, 1092.7, "SST (°C)", 13.5, align="left")
txt(14.6, 1191.7, "SST (°C)", 13.5, align="left")
d18o(594, 1268.3)
txt(574, 1284.3, "G. bulloides", 13, align="left", style="italic")
txt(581.6, 1400.7, "SST (°C)", 13.5, align="left")
txt(596, 1518.3, "Marine Isotope", 13)
txt(596, 1534.3, "Stage boundaries", 13)

# ---------------- frames ----------------
for P in PANELS:
    x0, x1 = P["x0"], P["x1"]
    p.segment(x0=[x0, x1], x1=[x0, x1], y0=[P["top"], P["top"]], y1=[P["bot"], P["bot"]],
              line_color="black", line_width=3)
    hy = [P["top"], P["sep"], P["mis_top"], P["mis_bot"], P["warm_top"], P["bot"]]
    p.segment(x0=[x0] * len(hy), x1=[x1] * len(hy), y0=hy, y1=hy, line_color="black", line_width=3)
    p.segment(x0=[x0], x1=[x1], y0=[P["warm_bot"]], y1=[P["warm_bot"]], line_color="#333333", line_width=1.5)

# ---------------- titles & labels ----------------
txt(325.5, 55, "Northern Atlantic/Mediterranean", 20, style="bold")
txt(346.4, 431.7, "Southern Atlantic", 20, style="bold")
txt(334.5, 918.3, "Indian Ocean", 20, style="bold")
txt(349.4, 1246.7, "Southern Ocean", 20, style="bold")

for s, x, y in [("North Atlantic", 329.7, 83.3), ("Atlantic", 265.6, 208.7),
                ("(Western African coast)", 267.8, 225), ("Mediterranean", 321, 314.3),
                ("Equatorial", 319.5, 462.3), ("Tropical/sub-tropical", 180, 547.3)]:
    txt(x, y, s, 13, style="italic")

for s, x, y in [("35a", 170.7, 101.7), ("51a", 399.6, 157.7), ("41a", 384, 221), ("61a", 151.5, 255),
                ("14a", 400.8, 310.7), ("14b", 431.7, 383.3), ("57a", 139.3, 458.3), ("38a", 161.7, 570.7),
                ("38b", 501, 589.3), ("38c", 357.7, 630.7), ("33a", 304.3, 655), ("23a", 405, 941.7),
                ("57a", 218.3, 1007.3), ("37a", 396.7, 1059.3), ("37b", 311.7, 1142.7), ("1b", 165, 1183.3),
                ("1a", 415, 1222.7), ("18a", 377.7, 1270), ("30a", 428.3, 1375), ("6a", 275, 1437.7)]:
    txt(x, y, s, 13)

for xs, ys, xe, ye in [(172.8, 111.7, 177.8, 120), (403.8, 166.7, 410, 182.7), (383, 230, 380, 246),
                       (148.5, 263.3, 145.6, 274), (415, 310.7, 425.7, 315), (439, 375, 450, 364),
                       (135, 468.3, 130, 487.3), (152.3, 578.3, 143.3, 585.7), (503.3, 580, 507.7, 569.3),
                       (355, 620, 355, 604), (306.7, 664, 305, 677.3), (401, 952.7, 395, 968.3),
                       (384.3, 1060, 371, 1064), (298.3, 1140.7, 286.7, 1134), (161.7, 1190, 156.7, 1200),
                       (414.3, 1213.3, 414.3, 1205), (393.3, 1271.7, 411, 1278.3), (428.3, 1362.7, 429, 1347.3),
                       (274.3, 1447.3, 276.7, 1464)]:
    p.add_layout(Arrow(end=NormalHead(size=5, line_width=1, fill_color="black"), x_start=xs, y_start=ys,
                       x_end=xe, y_end=ye, line_width=1))
p.add_layout(Arrow(end=NormalHead(size=7, line_width=1, fill_color="black"), x_start=217.7, y_start=1020,
                   x_end=221.7, y_end=1046, line_width=2))

open("out.html", "w").write(file_html(p, INLINE))
